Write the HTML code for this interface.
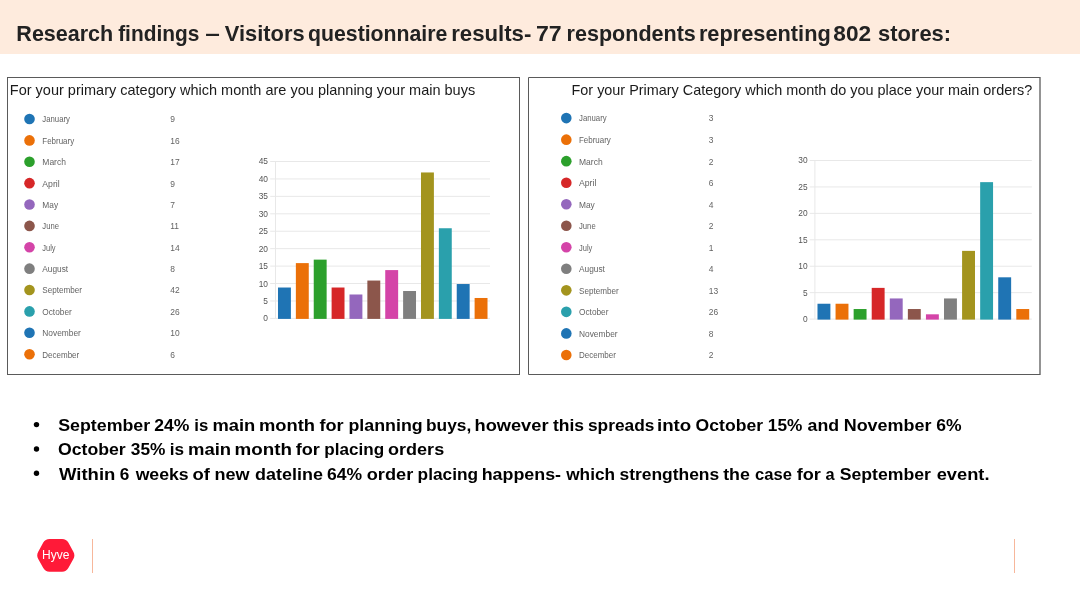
<!DOCTYPE html>
<html><head><meta charset="utf-8"><title>Research findings</title>
<style>
html,body{margin:0;padding:0;background:#fff;}
body{width:1080px;height:608px;overflow:hidden;position:relative;font-family:"Liberation Sans", sans-serif;}
svg{position:absolute;left:0;top:0;display:block;will-change:transform;}
svg text{font-family:"Liberation Sans", sans-serif;}
</style></head>
<body>
<svg width="1080" height="608" viewBox="0 0 1080 608">
<rect x="0" y="0" width="1080" height="54" fill="#FEEBDD"/>
<text x="0" y="0" font-size="22.8" font-weight="bold" fill="#222222" transform="translate(16.35 41.3) scale(0.9444 1)">Research</text>
<text x="0" y="0" font-size="22.8" font-weight="bold" fill="#222222" transform="translate(118.13 41.3) scale(0.9161 1)">findings</text>
<text x="0" y="0" font-size="22.8" font-weight="bold" fill="#222222" transform="translate(205.21 41.3) scale(1.1519 1)">–</text>
<text x="0" y="0" font-size="22.8" font-weight="bold" fill="#222222" transform="translate(224.84 41.3) scale(0.9582 1)">Visitors</text>
<text x="0" y="0" font-size="22.8" font-weight="bold" fill="#222222" transform="translate(308.05 41.3) scale(0.9323 1)">questionnaire</text>
<text x="0" y="0" font-size="22.8" font-weight="bold" fill="#222222" transform="translate(451.16 41.3) scale(0.9741 1)">results-</text>
<text x="0" y="0" font-size="22.8" font-weight="bold" fill="#222222" transform="translate(536.02 41.3) scale(1.0141 1)">77</text>
<text x="0" y="0" font-size="22.8" font-weight="bold" fill="#222222" transform="translate(566.60 41.3) scale(0.9449 1)">respondents</text>
<text x="0" y="0" font-size="22.8" font-weight="bold" fill="#222222" transform="translate(698.88 41.3) scale(0.9553 1)">representing</text>
<text x="0" y="0" font-size="22.8" font-weight="bold" fill="#222222" transform="translate(833.36 41.3) scale(0.9939 1)">802</text>
<text x="0" y="0" font-size="22.8" font-weight="bold" fill="#222222" transform="translate(878.03 41.3) scale(0.9607 1)">stores:</text>
<rect x="7.5" y="77.5" width="512" height="297" fill="none" stroke="#5A5A5A" stroke-width="1"/>
<path d="M1040,77.5 L528.5,77.5 L528.5,374.5 L1040,374.5" fill="none" stroke="#5A5A5A" stroke-width="1"/>
<line x1="1040" y1="77" x2="1040" y2="375" stroke="#5A5A5A" stroke-width="1.3"/>
<text x="9.8" y="95.4" font-size="14.6" fill="#1a1a1a" textLength="465.4" lengthAdjust="spacingAndGlyphs">For your primary category which month are you planning your main buys</text>
<text x="571.5" y="95.4" font-size="14.6" fill="#1a1a1a" textLength="460.7" lengthAdjust="spacingAndGlyphs">For your Primary Category which month do you place your main orders?</text>
<circle cx="29.5" cy="119.00" r="5.3" fill="#1F74B4"/>
<text x="42.3" y="122.40" font-size="9" fill="#646464" transform="translate(42.3 0) scale(0.866 1) translate(-42.3 0)">January</text>
<text x="170.3" y="122.40" font-size="9.2" fill="#646464" transform="translate(170.3 0) scale(0.92 1) translate(-170.3 0)">9</text>
<circle cx="29.5" cy="140.38" r="5.3" fill="#EB7008"/>
<text x="42.3" y="143.78" font-size="9" fill="#646464" transform="translate(42.3 0) scale(0.885 1) translate(-42.3 0)">February</text>
<text x="170.3" y="143.78" font-size="9.2" fill="#646464" transform="translate(170.3 0) scale(0.92 1) translate(-170.3 0)">16</text>
<circle cx="29.5" cy="161.76" r="5.3" fill="#2CA02C"/>
<text x="42.3" y="165.16" font-size="9" fill="#646464" transform="translate(42.3 0) scale(0.946 1) translate(-42.3 0)">March</text>
<text x="170.3" y="165.16" font-size="9.2" fill="#646464" transform="translate(170.3 0) scale(0.92 1) translate(-170.3 0)">17</text>
<circle cx="29.5" cy="183.14" r="5.3" fill="#D62728"/>
<text x="42.3" y="186.54" font-size="9" fill="#646464" transform="translate(42.3 0) scale(0.967 1) translate(-42.3 0)">April</text>
<text x="170.3" y="186.54" font-size="9.2" fill="#646464" transform="translate(170.3 0) scale(0.92 1) translate(-170.3 0)">9</text>
<circle cx="29.5" cy="204.52" r="5.3" fill="#9467BD"/>
<text x="42.3" y="207.92" font-size="9" fill="#646464" transform="translate(42.3 0) scale(0.930 1) translate(-42.3 0)">May</text>
<text x="170.3" y="207.92" font-size="9.2" fill="#646464" transform="translate(170.3 0) scale(0.92 1) translate(-170.3 0)">7</text>
<circle cx="29.5" cy="225.90" r="5.3" fill="#8C564B"/>
<text x="42.3" y="229.30" font-size="9" fill="#646464" transform="translate(42.3 0) scale(0.855 1) translate(-42.3 0)">June</text>
<text x="170.3" y="229.30" font-size="9.2" fill="#646464" transform="translate(170.3 0) scale(0.92 1) translate(-170.3 0)">11</text>
<circle cx="29.5" cy="247.28" r="5.3" fill="#D444A8"/>
<text x="42.3" y="250.68" font-size="9" fill="#646464" transform="translate(42.3 0) scale(0.833 1) translate(-42.3 0)">July</text>
<text x="170.3" y="250.68" font-size="9.2" fill="#646464" transform="translate(170.3 0) scale(0.92 1) translate(-170.3 0)">14</text>
<circle cx="29.5" cy="268.66" r="5.3" fill="#7F7F7F"/>
<text x="42.3" y="272.06" font-size="9" fill="#646464" transform="translate(42.3 0) scale(0.925 1) translate(-42.3 0)">August</text>
<text x="170.3" y="272.06" font-size="9.2" fill="#646464" transform="translate(170.3 0) scale(0.92 1) translate(-170.3 0)">8</text>
<circle cx="29.5" cy="290.04" r="5.3" fill="#A3941E"/>
<text x="42.3" y="293.44" font-size="9" fill="#646464" transform="translate(42.3 0) scale(0.902 1) translate(-42.3 0)">September</text>
<text x="170.3" y="293.44" font-size="9.2" fill="#646464" transform="translate(170.3 0) scale(0.92 1) translate(-170.3 0)">42</text>
<circle cx="29.5" cy="311.42" r="5.3" fill="#2AA0AC"/>
<text x="42.3" y="314.82" font-size="9" fill="#646464" transform="translate(42.3 0) scale(0.922 1) translate(-42.3 0)">October</text>
<text x="170.3" y="314.82" font-size="9.2" fill="#646464" transform="translate(170.3 0) scale(0.92 1) translate(-170.3 0)">26</text>
<circle cx="29.5" cy="332.80" r="5.3" fill="#1F74B4"/>
<text x="42.3" y="336.20" font-size="9" fill="#646464" transform="translate(42.3 0) scale(0.930 1) translate(-42.3 0)">November</text>
<text x="170.3" y="336.20" font-size="9.2" fill="#646464" transform="translate(170.3 0) scale(0.92 1) translate(-170.3 0)">10</text>
<circle cx="29.5" cy="354.18" r="5.3" fill="#EB7008"/>
<text x="42.3" y="357.58" font-size="9" fill="#646464" transform="translate(42.3 0) scale(0.891 1) translate(-42.3 0)">December</text>
<text x="170.3" y="357.58" font-size="9.2" fill="#646464" transform="translate(170.3 0) scale(0.92 1) translate(-170.3 0)">6</text>
<circle cx="566.3" cy="118.10" r="5.3" fill="#1F74B4"/>
<text x="579.0" y="121.50" font-size="9" fill="#646464" transform="translate(579.0 0) scale(0.866 1) translate(-579.0 0)">January</text>
<text x="708.7" y="121.50" font-size="9.2" fill="#646464" transform="translate(708.7 0) scale(0.92 1) translate(-708.7 0)">3</text>
<circle cx="566.3" cy="139.63" r="5.3" fill="#EB7008"/>
<text x="579.0" y="143.03" font-size="9" fill="#646464" transform="translate(579.0 0) scale(0.885 1) translate(-579.0 0)">February</text>
<text x="708.7" y="143.03" font-size="9.2" fill="#646464" transform="translate(708.7 0) scale(0.92 1) translate(-708.7 0)">3</text>
<circle cx="566.3" cy="161.16" r="5.3" fill="#2CA02C"/>
<text x="579.0" y="164.56" font-size="9" fill="#646464" transform="translate(579.0 0) scale(0.946 1) translate(-579.0 0)">March</text>
<text x="708.7" y="164.56" font-size="9.2" fill="#646464" transform="translate(708.7 0) scale(0.92 1) translate(-708.7 0)">2</text>
<circle cx="566.3" cy="182.69" r="5.3" fill="#D62728"/>
<text x="579.0" y="186.09" font-size="9" fill="#646464" transform="translate(579.0 0) scale(0.967 1) translate(-579.0 0)">April</text>
<text x="708.7" y="186.09" font-size="9.2" fill="#646464" transform="translate(708.7 0) scale(0.92 1) translate(-708.7 0)">6</text>
<circle cx="566.3" cy="204.22" r="5.3" fill="#9467BD"/>
<text x="579.0" y="207.62" font-size="9" fill="#646464" transform="translate(579.0 0) scale(0.930 1) translate(-579.0 0)">May</text>
<text x="708.7" y="207.62" font-size="9.2" fill="#646464" transform="translate(708.7 0) scale(0.92 1) translate(-708.7 0)">4</text>
<circle cx="566.3" cy="225.75" r="5.3" fill="#8C564B"/>
<text x="579.0" y="229.15" font-size="9" fill="#646464" transform="translate(579.0 0) scale(0.855 1) translate(-579.0 0)">June</text>
<text x="708.7" y="229.15" font-size="9.2" fill="#646464" transform="translate(708.7 0) scale(0.92 1) translate(-708.7 0)">2</text>
<circle cx="566.3" cy="247.28" r="5.3" fill="#D444A8"/>
<text x="579.0" y="250.68" font-size="9" fill="#646464" transform="translate(579.0 0) scale(0.833 1) translate(-579.0 0)">July</text>
<text x="708.7" y="250.68" font-size="9.2" fill="#646464" transform="translate(708.7 0) scale(0.92 1) translate(-708.7 0)">1</text>
<circle cx="566.3" cy="268.81" r="5.3" fill="#7F7F7F"/>
<text x="579.0" y="272.21" font-size="9" fill="#646464" transform="translate(579.0 0) scale(0.925 1) translate(-579.0 0)">August</text>
<text x="708.7" y="272.21" font-size="9.2" fill="#646464" transform="translate(708.7 0) scale(0.92 1) translate(-708.7 0)">4</text>
<circle cx="566.3" cy="290.34" r="5.3" fill="#A3941E"/>
<text x="579.0" y="293.74" font-size="9" fill="#646464" transform="translate(579.0 0) scale(0.902 1) translate(-579.0 0)">September</text>
<text x="708.7" y="293.74" font-size="9.2" fill="#646464" transform="translate(708.7 0) scale(0.92 1) translate(-708.7 0)">13</text>
<circle cx="566.3" cy="311.87" r="5.3" fill="#2AA0AC"/>
<text x="579.0" y="315.27" font-size="9" fill="#646464" transform="translate(579.0 0) scale(0.922 1) translate(-579.0 0)">October</text>
<text x="708.7" y="315.27" font-size="9.2" fill="#646464" transform="translate(708.7 0) scale(0.92 1) translate(-708.7 0)">26</text>
<circle cx="566.3" cy="333.40" r="5.3" fill="#1F74B4"/>
<text x="579.0" y="336.80" font-size="9" fill="#646464" transform="translate(579.0 0) scale(0.930 1) translate(-579.0 0)">November</text>
<text x="708.7" y="336.80" font-size="9.2" fill="#646464" transform="translate(708.7 0) scale(0.92 1) translate(-708.7 0)">8</text>
<circle cx="566.3" cy="354.93" r="5.3" fill="#EB7008"/>
<text x="579.0" y="358.33" font-size="9" fill="#646464" transform="translate(579.0 0) scale(0.891 1) translate(-579.0 0)">December</text>
<text x="708.7" y="358.33" font-size="9.2" fill="#646464" transform="translate(708.7 0) scale(0.92 1) translate(-708.7 0)">2</text>
<line x1="270.2" y1="318.40" x2="490" y2="318.40" stroke="#E8E8E8" stroke-width="1"/>
<text x="268" y="321.40" font-size="9.2" fill="#555555" text-anchor="end" transform="translate(268 0) scale(0.91 1) translate(-268 0)">0</text>
<line x1="270.2" y1="300.97" x2="490" y2="300.97" stroke="#E8E8E8" stroke-width="1"/>
<text x="268" y="303.97" font-size="9.2" fill="#555555" text-anchor="end" transform="translate(268 0) scale(0.91 1) translate(-268 0)">5</text>
<line x1="270.2" y1="283.53" x2="490" y2="283.53" stroke="#E8E8E8" stroke-width="1"/>
<text x="268" y="286.53" font-size="9.2" fill="#555555" text-anchor="end" transform="translate(268 0) scale(0.91 1) translate(-268 0)">10</text>
<line x1="270.2" y1="266.10" x2="490" y2="266.10" stroke="#E8E8E8" stroke-width="1"/>
<text x="268" y="269.10" font-size="9.2" fill="#555555" text-anchor="end" transform="translate(268 0) scale(0.91 1) translate(-268 0)">15</text>
<line x1="270.2" y1="248.67" x2="490" y2="248.67" stroke="#E8E8E8" stroke-width="1"/>
<text x="268" y="251.67" font-size="9.2" fill="#555555" text-anchor="end" transform="translate(268 0) scale(0.91 1) translate(-268 0)">20</text>
<line x1="270.2" y1="231.23" x2="490" y2="231.23" stroke="#E8E8E8" stroke-width="1"/>
<text x="268" y="234.23" font-size="9.2" fill="#555555" text-anchor="end" transform="translate(268 0) scale(0.91 1) translate(-268 0)">25</text>
<line x1="270.2" y1="213.80" x2="490" y2="213.80" stroke="#E8E8E8" stroke-width="1"/>
<text x="268" y="216.80" font-size="9.2" fill="#555555" text-anchor="end" transform="translate(268 0) scale(0.91 1) translate(-268 0)">30</text>
<line x1="270.2" y1="196.37" x2="490" y2="196.37" stroke="#E8E8E8" stroke-width="1"/>
<text x="268" y="199.37" font-size="9.2" fill="#555555" text-anchor="end" transform="translate(268 0) scale(0.91 1) translate(-268 0)">35</text>
<line x1="270.2" y1="178.93" x2="490" y2="178.93" stroke="#E8E8E8" stroke-width="1"/>
<text x="268" y="181.93" font-size="9.2" fill="#555555" text-anchor="end" transform="translate(268 0) scale(0.91 1) translate(-268 0)">40</text>
<line x1="270.2" y1="161.50" x2="490" y2="161.50" stroke="#E8E8E8" stroke-width="1"/>
<text x="268" y="164.50" font-size="9.2" fill="#555555" text-anchor="end" transform="translate(268 0) scale(0.91 1) translate(-268 0)">45</text>
<line x1="275.5" y1="161.50" x2="275.5" y2="318.40" stroke="#E8E8E8" stroke-width="1"/>
<rect x="277.99" y="287.52" width="12.9" height="31.38" fill="#1F74B4"/>
<rect x="295.86" y="263.11" width="12.9" height="55.79" fill="#EB7008"/>
<rect x="313.74" y="259.63" width="12.9" height="59.27" fill="#2CA02C"/>
<rect x="331.61" y="287.52" width="12.9" height="31.38" fill="#D62728"/>
<rect x="349.49" y="294.49" width="12.9" height="24.41" fill="#9467BD"/>
<rect x="367.36" y="280.55" width="12.9" height="38.35" fill="#8C564B"/>
<rect x="385.24" y="270.09" width="12.9" height="48.81" fill="#D444A8"/>
<rect x="403.11" y="291.01" width="12.9" height="27.89" fill="#7F7F7F"/>
<rect x="420.99" y="172.46" width="12.9" height="146.44" fill="#A3941E"/>
<rect x="438.86" y="228.25" width="12.9" height="90.65" fill="#2AA0AC"/>
<rect x="456.74" y="284.03" width="12.9" height="34.87" fill="#1F74B4"/>
<rect x="474.61" y="297.98" width="12.9" height="20.92" fill="#EB7008"/>
<line x1="809.7" y1="319.10" x2="1031.8" y2="319.10" stroke="#E8E8E8" stroke-width="1"/>
<text x="807.6" y="322.10" font-size="9.2" fill="#555555" text-anchor="end" transform="translate(807.6 0) scale(0.91 1) translate(-807.6 0)">0</text>
<line x1="809.7" y1="292.67" x2="1031.8" y2="292.67" stroke="#E8E8E8" stroke-width="1"/>
<text x="807.6" y="295.67" font-size="9.2" fill="#555555" text-anchor="end" transform="translate(807.6 0) scale(0.91 1) translate(-807.6 0)">5</text>
<line x1="809.7" y1="266.23" x2="1031.8" y2="266.23" stroke="#E8E8E8" stroke-width="1"/>
<text x="807.6" y="269.23" font-size="9.2" fill="#555555" text-anchor="end" transform="translate(807.6 0) scale(0.91 1) translate(-807.6 0)">10</text>
<line x1="809.7" y1="239.80" x2="1031.8" y2="239.80" stroke="#E8E8E8" stroke-width="1"/>
<text x="807.6" y="242.80" font-size="9.2" fill="#555555" text-anchor="end" transform="translate(807.6 0) scale(0.91 1) translate(-807.6 0)">15</text>
<line x1="809.7" y1="213.37" x2="1031.8" y2="213.37" stroke="#E8E8E8" stroke-width="1"/>
<text x="807.6" y="216.37" font-size="9.2" fill="#555555" text-anchor="end" transform="translate(807.6 0) scale(0.91 1) translate(-807.6 0)">20</text>
<line x1="809.7" y1="186.93" x2="1031.8" y2="186.93" stroke="#E8E8E8" stroke-width="1"/>
<text x="807.6" y="189.93" font-size="9.2" fill="#555555" text-anchor="end" transform="translate(807.6 0) scale(0.91 1) translate(-807.6 0)">25</text>
<line x1="809.7" y1="160.50" x2="1031.8" y2="160.50" stroke="#E8E8E8" stroke-width="1"/>
<text x="807.6" y="163.50" font-size="9.2" fill="#555555" text-anchor="end" transform="translate(807.6 0) scale(0.91 1) translate(-807.6 0)">30</text>
<line x1="814.9" y1="160.50" x2="814.9" y2="319.10" stroke="#E8E8E8" stroke-width="1"/>
<rect x="817.49" y="303.74" width="12.9" height="15.86" fill="#1F74B4"/>
<rect x="835.56" y="303.74" width="12.9" height="15.86" fill="#EB7008"/>
<rect x="853.64" y="309.03" width="12.9" height="10.57" fill="#2CA02C"/>
<rect x="871.71" y="287.88" width="12.9" height="31.72" fill="#D62728"/>
<rect x="889.79" y="298.45" width="12.9" height="21.15" fill="#9467BD"/>
<rect x="907.86" y="309.03" width="12.9" height="10.57" fill="#8C564B"/>
<rect x="925.94" y="314.31" width="12.9" height="5.29" fill="#D444A8"/>
<rect x="944.01" y="298.45" width="12.9" height="21.15" fill="#7F7F7F"/>
<rect x="962.09" y="250.87" width="12.9" height="68.73" fill="#A3941E"/>
<rect x="980.16" y="182.15" width="12.9" height="137.45" fill="#2AA0AC"/>
<rect x="998.24" y="277.31" width="12.9" height="42.29" fill="#1F74B4"/>
<rect x="1016.31" y="309.03" width="12.9" height="10.57" fill="#EB7008"/>
<circle cx="36.5" cy="424.60" r="2.7" fill="#000"/>
<text x="0" y="0" font-size="16.4" font-weight="bold" fill="#000" transform="translate(58.17 431.0) scale(1.0863 1)">September</text>
<text x="0" y="0" font-size="16.4" font-weight="bold" fill="#000" transform="translate(154.18 431.0) scale(1.0718 1)">24%</text>
<text x="0" y="0" font-size="16.4" font-weight="bold" fill="#000" transform="translate(194.33 431.0) scale(1.0212 1)">is</text>
<text x="0" y="0" font-size="16.4" font-weight="bold" fill="#000" transform="translate(212.51 431.0) scale(1.1187 1)">main</text>
<text x="0" y="0" font-size="16.4" font-weight="bold" fill="#000" transform="translate(258.91 431.0) scale(1.1196 1)">month</text>
<text x="0" y="0" font-size="16.4" font-weight="bold" fill="#000" transform="translate(319.38 431.0) scale(1.1048 1)">for</text>
<text x="0" y="0" font-size="16.4" font-weight="bold" fill="#000" transform="translate(348.44 431.0) scale(1.0880 1)">planning</text>
<text x="0" y="0" font-size="16.4" font-weight="bold" fill="#000" transform="translate(425.97 431.0) scale(1.0572 1)">buys,</text>
<text x="0" y="0" font-size="16.4" font-weight="bold" fill="#000" transform="translate(474.52 431.0) scale(1.1128 1)">however</text>
<text x="0" y="0" font-size="16.4" font-weight="bold" fill="#000" transform="translate(552.98 431.0) scale(1.0675 1)">this</text>
<text x="0" y="0" font-size="16.4" font-weight="bold" fill="#000" transform="translate(587.99 431.0) scale(1.0557 1)">spreads</text>
<text x="0" y="0" font-size="16.4" font-weight="bold" fill="#000" transform="translate(656.99 431.0) scale(1.1417 1)">into</text>
<text x="0" y="0" font-size="16.4" font-weight="bold" fill="#000" transform="translate(695.60 431.0) scale(1.0727 1)">October</text>
<text x="0" y="0" font-size="16.4" font-weight="bold" fill="#000" transform="translate(767.82 431.0) scale(1.0521 1)">15%</text>
<text x="0" y="0" font-size="16.4" font-weight="bold" fill="#000" transform="translate(807.57 431.0) scale(1.0836 1)">and</text>
<text x="0" y="0" font-size="16.4" font-weight="bold" fill="#000" transform="translate(843.69 431.0) scale(1.0953 1)">November</text>
<text x="0" y="0" font-size="16.4" font-weight="bold" fill="#000" transform="translate(936.34 431.0) scale(1.0693 1)">6%</text>
<circle cx="36.5" cy="449.00" r="2.7" fill="#000"/>
<text x="0" y="0" font-size="16.4" font-weight="bold" fill="#000" transform="translate(57.99 455.4) scale(1.0776 1)">October</text>
<text x="0" y="0" font-size="16.4" font-weight="bold" fill="#000" transform="translate(130.81 455.4) scale(1.0556 1)">35%</text>
<text x="0" y="0" font-size="16.4" font-weight="bold" fill="#000" transform="translate(169.80 455.4) scale(1.0465 1)">is</text>
<text x="0" y="0" font-size="16.4" font-weight="bold" fill="#000" transform="translate(188.00 455.4) scale(1.1270 1)">main</text>
<text x="0" y="0" font-size="16.4" font-weight="bold" fill="#000" transform="translate(234.58 455.4) scale(1.1467 1)">month</text>
<text x="0" y="0" font-size="16.4" font-weight="bold" fill="#000" transform="translate(295.78 455.4) scale(1.1048 1)">for</text>
<text x="0" y="0" font-size="16.4" font-weight="bold" fill="#000" transform="translate(324.29 455.4) scale(1.0422 1)">placing</text>
<text x="0" y="0" font-size="16.4" font-weight="bold" fill="#000" transform="translate(388.08 455.4) scale(1.0999 1)">orders</text>
<circle cx="36.5" cy="473.30" r="2.7" fill="#000"/>
<text x="0" y="0" font-size="16.4" font-weight="bold" fill="#000" transform="translate(59.00 479.7) scale(1.1296 1)">Within</text>
<text x="0" y="0" font-size="16.4" font-weight="bold" fill="#000" transform="translate(119.75 479.7) scale(1.0489 1)">6</text>
<text x="0" y="0" font-size="16.4" font-weight="bold" fill="#000" transform="translate(135.64 479.7) scale(1.0776 1)">weeks</text>
<text x="0" y="0" font-size="16.4" font-weight="bold" fill="#000" transform="translate(192.46 479.7) scale(1.1252 1)">of</text>
<text x="0" y="0" font-size="16.4" font-weight="bold" fill="#000" transform="translate(214.43 479.7) scale(1.1013 1)">new</text>
<text x="0" y="0" font-size="16.4" font-weight="bold" fill="#000" transform="translate(255.08 479.7) scale(1.0944 1)">dateline</text>
<text x="0" y="0" font-size="16.4" font-weight="bold" fill="#000" transform="translate(327.04 479.7) scale(1.0700 1)">64%</text>
<text x="0" y="0" font-size="16.4" font-weight="bold" fill="#000" transform="translate(366.77 479.7) scale(1.1086 1)">order</text>
<text x="0" y="0" font-size="16.4" font-weight="bold" fill="#000" transform="translate(417.58 479.7) scale(1.0549 1)">placing</text>
<text x="0" y="0" font-size="16.4" font-weight="bold" fill="#000" transform="translate(481.65 479.7) scale(1.0901 1)">happens-</text>
<text x="0" y="0" font-size="16.4" font-weight="bold" fill="#000" transform="translate(566.24 479.7) scale(1.0503 1)">which</text>
<text x="0" y="0" font-size="16.4" font-weight="bold" fill="#000" transform="translate(619.49 479.7) scale(1.0635 1)">strengthens</text>
<text x="0" y="0" font-size="16.4" font-weight="bold" fill="#000" transform="translate(723.18 479.7) scale(1.0854 1)">the</text>
<text x="0" y="0" font-size="16.4" font-weight="bold" fill="#000" transform="translate(754.94 479.7) scale(1.0125 1)">case</text>
<text x="0" y="0" font-size="16.4" font-weight="bold" fill="#000" transform="translate(796.78 479.7) scale(1.1048 1)">for</text>
<text x="0" y="0" font-size="16.4" font-weight="bold" fill="#000" transform="translate(825.41 479.7) scale(0.9962 1)">a</text>
<text x="0" y="0" font-size="16.4" font-weight="bold" fill="#000" transform="translate(839.77 479.7) scale(1.0756 1)">September</text>
<text x="0" y="0" font-size="16.4" font-weight="bold" fill="#000" transform="translate(936.67 479.7) scale(1.1154 1)">event.</text>
<path d="M43.26,542.57 Q45.30,538.90 49.50,538.90 L62.10,538.90 Q66.30,538.90 68.34,542.57 L73.36,551.63 Q75.40,555.30 73.36,558.97 L68.34,568.03 Q66.30,571.70 62.10,571.70 L49.50,571.70 Q45.30,571.70 43.26,568.03 L38.24,558.97 Q36.20,555.30 38.24,551.63 Z" fill="#FF1A38"/>
<text x="0" y="0" font-size="12" fill="#fff" transform="translate(42.00 559.0) scale(1.0066 1)">Hyve</text>
<line x1="92.5" y1="539" x2="92.5" y2="573" stroke="#F7B79B" stroke-width="1"/>
<line x1="1014.5" y1="539" x2="1014.5" y2="573" stroke="#F7B79B" stroke-width="1"/>
</svg>
</body></html>
